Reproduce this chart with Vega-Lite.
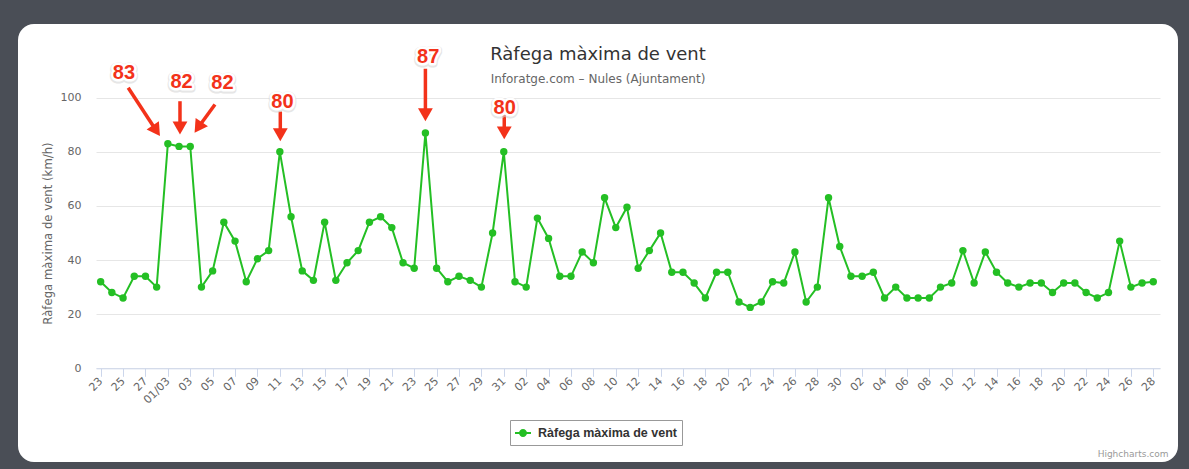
{
  "$schema": "https://vega.github.io/schema/vega-lite/v6.json",
  "width": 1160,
  "height": 438,
  "autosize": {"type": "none"},
  "padding": {"left": 18, "top": 24, "right": 11, "bottom": 7},
  "background": "#4a4e56",
  "config": {
    "font": "DejaVu Sans",
    "view": {"fill": "#ffffff", "stroke": null, "cornerRadius": 16},
    "axisX": {"labelOverlap": false, "labelFlush": false},
    "axis": {"labelOverlap": false}
  },
  "title": {
    "text": "Ràfega màxima de vent",
    "subtitle": "Inforatge.com – Nules (Ajuntament)",
    "anchor": "middle",
    "frame": "group",
    "offset": -61,
    "font": "DejaVu Sans",
    "fontSize": 18,
    "fontWeight": "normal",
    "color": "#333333",
    "subtitleFont": "DejaVu Sans",
    "subtitleFontSize": 12,
    "subtitleColor": "#666666",
    "subtitlePadding": 10
  },
  "datasets": {
    "wind": [
      {"d": "2015-02-23", "v": 32}, {"d": "2015-02-24", "v": 28}, {"d": "2015-02-25", "v": 26}, {"d": "2015-02-26", "v": 34}, {"d": "2015-02-27", "v": 34}, {"d": "2015-02-28", "v": 30},
      {"d": "2015-03-01", "v": 83}, {"d": "2015-03-02", "v": 82}, {"d": "2015-03-03", "v": 82}, {"d": "2015-03-04", "v": 30}, {"d": "2015-03-05", "v": 36}, {"d": "2015-03-06", "v": 54}, {"d": "2015-03-07", "v": 47}, {"d": "2015-03-08", "v": 32}, {"d": "2015-03-09", "v": 40.5}, {"d": "2015-03-10", "v": 43.5},
      {"d": "2015-03-11", "v": 80}, {"d": "2015-03-12", "v": 56}, {"d": "2015-03-13", "v": 36}, {"d": "2015-03-14", "v": 32.5}, {"d": "2015-03-15", "v": 54}, {"d": "2015-03-16", "v": 32.5}, {"d": "2015-03-17", "v": 39}, {"d": "2015-03-18", "v": 43.5}, {"d": "2015-03-19", "v": 54}, {"d": "2015-03-20", "v": 56},
      {"d": "2015-03-21", "v": 52}, {"d": "2015-03-22", "v": 39}, {"d": "2015-03-23", "v": 37}, {"d": "2015-03-24", "v": 87}, {"d": "2015-03-25", "v": 37}, {"d": "2015-03-26", "v": 32}, {"d": "2015-03-27", "v": 34}, {"d": "2015-03-28", "v": 32.5}, {"d": "2015-03-29", "v": 30}, {"d": "2015-03-30", "v": 50}, {"d": "2015-03-31", "v": 80},
      {"d": "2015-04-01", "v": 32}, {"d": "2015-04-02", "v": 30}, {"d": "2015-04-03", "v": 55.5}, {"d": "2015-04-04", "v": 48}, {"d": "2015-04-05", "v": 34}, {"d": "2015-04-06", "v": 34}, {"d": "2015-04-07", "v": 43}, {"d": "2015-04-08", "v": 39}, {"d": "2015-04-09", "v": 63}, {"d": "2015-04-10", "v": 52},
      {"d": "2015-04-11", "v": 59.5}, {"d": "2015-04-12", "v": 37}, {"d": "2015-04-13", "v": 43.5}, {"d": "2015-04-14", "v": 50}, {"d": "2015-04-15", "v": 35.5}, {"d": "2015-04-16", "v": 35.5}, {"d": "2015-04-17", "v": 31.5}, {"d": "2015-04-18", "v": 26}, {"d": "2015-04-19", "v": 35.5}, {"d": "2015-04-20", "v": 35.5},
      {"d": "2015-04-21", "v": 24.5}, {"d": "2015-04-22", "v": 22.5}, {"d": "2015-04-23", "v": 24.5}, {"d": "2015-04-24", "v": 32}, {"d": "2015-04-25", "v": 31.5}, {"d": "2015-04-26", "v": 43}, {"d": "2015-04-27", "v": 24.5}, {"d": "2015-04-28", "v": 30}, {"d": "2015-04-29", "v": 63}, {"d": "2015-04-30", "v": 45},
      {"d": "2015-05-01", "v": 34}, {"d": "2015-05-02", "v": 34}, {"d": "2015-05-03", "v": 35.5}, {"d": "2015-05-04", "v": 26}, {"d": "2015-05-05", "v": 30}, {"d": "2015-05-06", "v": 26}, {"d": "2015-05-07", "v": 26}, {"d": "2015-05-08", "v": 26}, {"d": "2015-05-09", "v": 30}, {"d": "2015-05-10", "v": 31.5},
      {"d": "2015-05-11", "v": 43.5}, {"d": "2015-05-12", "v": 31.5}, {"d": "2015-05-13", "v": 43}, {"d": "2015-05-14", "v": 35.5}, {"d": "2015-05-15", "v": 31.5}, {"d": "2015-05-16", "v": 30}, {"d": "2015-05-17", "v": 31.5}, {"d": "2015-05-18", "v": 31.5}, {"d": "2015-05-19", "v": 28}, {"d": "2015-05-20", "v": 31.5},
      {"d": "2015-05-21", "v": 31.5}, {"d": "2015-05-22", "v": 28}, {"d": "2015-05-23", "v": 26}, {"d": "2015-05-24", "v": 28}, {"d": "2015-05-25", "v": 47}, {"d": "2015-05-26", "v": 30}, {"d": "2015-05-27", "v": 31.5}, {"d": "2015-05-28", "v": 32}
    ],
    "notes": [
      {"label": "83", "lx": "2015-02-25T02:00:00Z", "ly": 109.2, "ax": "2015-02-25T11:00:00Z", "ay": 103.7, "bx": "2015-02-27T23:20:00Z", "by": 87.8, "tilt": -1},
      {"label": "82", "lx": "2015-03-02T05:30:00Z", "ly": 105.8, "ax": "2015-03-02T02:00:00Z", "ay": 98.7, "bx": "2015-03-02T02:00:00Z", "by": 88.8, "tilt": 0},
      {"label": "82", "lx": "2015-03-05T21:00:00Z", "ly": 105.4, "ax": "2015-03-05T05:00:00Z", "ay": 97.5, "bx": "2015-03-03T17:00:00Z", "by": 89.0, "tilt": 1},
      {"label": "80", "lx": "2015-03-11T05:30:00Z", "ly": 98.3, "ax": "2015-03-11T01:00:00Z", "ay": 94.9, "bx": "2015-03-11T01:00:00Z", "by": 86.3, "tilt": 0},
      {"label": "87", "lx": "2015-03-24T06:00:00Z", "ly": 115.1, "ax": "2015-03-24T00:00:00Z", "ay": 110.7, "bx": "2015-03-24T00:00:00Z", "by": 93.7, "tilt": 0},
      {"label": "80", "lx": "2015-03-31T02:00:00Z", "ly": 96.3, "ax": "2015-03-31T01:00:00Z", "ay": 93.8, "bx": "2015-03-31T01:00:00Z", "by": 87.0, "tilt": 0}
    ]
  },
  "layer": [
    {
      "data": {"name": "wind"},
      "mark": {"type": "line", "strokeWidth": 2, "point": {"filled": true, "size": 55}},
      "encoding": {
        "x": {
          "field": "d",
          "type": "temporal",
          "scale": {
            "type": "utc",
            "domain": [
              {"year": 2015, "month": 2, "date": 22, "hours": 14, "utc": true},
              {"year": 2015, "month": 5, "date": 28, "hours": 14, "minutes": 24, "utc": true}
            ],
            "range": [78, 1142]
          },
          "axis": {
            "values": [
              {"year": 2015, "month": 2, "date": 23, "utc": true}, {"year": 2015, "month": 2, "date": 25, "utc": true}, {"year": 2015, "month": 2, "date": 27, "utc": true},
              {"year": 2015, "month": 3, "date": 1, "utc": true}, {"year": 2015, "month": 3, "date": 3, "utc": true}, {"year": 2015, "month": 3, "date": 5, "utc": true}, {"year": 2015, "month": 3, "date": 7, "utc": true},
              {"year": 2015, "month": 3, "date": 9, "utc": true}, {"year": 2015, "month": 3, "date": 11, "utc": true}, {"year": 2015, "month": 3, "date": 13, "utc": true}, {"year": 2015, "month": 3, "date": 15, "utc": true},
              {"year": 2015, "month": 3, "date": 17, "utc": true}, {"year": 2015, "month": 3, "date": 19, "utc": true}, {"year": 2015, "month": 3, "date": 21, "utc": true}, {"year": 2015, "month": 3, "date": 23, "utc": true},
              {"year": 2015, "month": 3, "date": 25, "utc": true}, {"year": 2015, "month": 3, "date": 27, "utc": true}, {"year": 2015, "month": 3, "date": 29, "utc": true}, {"year": 2015, "month": 3, "date": 31, "utc": true},
              {"year": 2015, "month": 4, "date": 2, "utc": true}, {"year": 2015, "month": 4, "date": 4, "utc": true}, {"year": 2015, "month": 4, "date": 6, "utc": true}, {"year": 2015, "month": 4, "date": 8, "utc": true},
              {"year": 2015, "month": 4, "date": 10, "utc": true}, {"year": 2015, "month": 4, "date": 12, "utc": true}, {"year": 2015, "month": 4, "date": 14, "utc": true}, {"year": 2015, "month": 4, "date": 16, "utc": true},
              {"year": 2015, "month": 4, "date": 18, "utc": true}, {"year": 2015, "month": 4, "date": 20, "utc": true}, {"year": 2015, "month": 4, "date": 22, "utc": true}, {"year": 2015, "month": 4, "date": 24, "utc": true},
              {"year": 2015, "month": 4, "date": 26, "utc": true}, {"year": 2015, "month": 4, "date": 28, "utc": true}, {"year": 2015, "month": 4, "date": 30, "utc": true},
              {"year": 2015, "month": 5, "date": 2, "utc": true}, {"year": 2015, "month": 5, "date": 4, "utc": true}, {"year": 2015, "month": 5, "date": 6, "utc": true}, {"year": 2015, "month": 5, "date": 8, "utc": true},
              {"year": 2015, "month": 5, "date": 10, "utc": true}, {"year": 2015, "month": 5, "date": 12, "utc": true}, {"year": 2015, "month": 5, "date": 14, "utc": true}, {"year": 2015, "month": 5, "date": 16, "utc": true},
              {"year": 2015, "month": 5, "date": 18, "utc": true}, {"year": 2015, "month": 5, "date": 20, "utc": true}, {"year": 2015, "month": 5, "date": 22, "utc": true}, {"year": 2015, "month": 5, "date": 24, "utc": true},
              {"year": 2015, "month": 5, "date": 26, "utc": true}, {"year": 2015, "month": 5, "date": 28, "utc": true}
            ],
            "tickCount": 100,
            "labelExpr": "utcdate(datum.value) == 1 ? utcFormat(datum.value, '%d/%m') : utcFormat(datum.value, '%d')",
            "labelAngle": -45,
            "labelAlign": "right",
            "labelBaseline": "middle",
            "labelFont": "DejaVu Sans",
            "labelFontSize": 11,
            "labelColor": "#666666",
            "labelPadding": 3,
            "labelOverlap": false,
            "labelFlush": false,
            "offset": -93.7,
            "domainColor": "#ccd6eb",
            "tickColor": "#ccd6eb",
            "tickSize": 8,
            "grid": false,
            "title": "Highcharts.com",
            "titleFont": "DejaVu Sans",
            "titleFontSize": 9,
            "titleFontWeight": "normal",
            "titleColor": "#999999",
            "titleAlign": "right",
            "titleBaseline": "alphabetic",
            "titleX": 1150,
            "titleY": 88
          }
        },
        "y": {
          "field": "v",
          "type": "quantitative",
          "scale": {"domain": [0, 100], "range": [344.3, 73.7], "nice": false, "zero": false},
          "axis": {
            "values": [0, 20, 40, 60, 80, 100],
            "title": "Ràfega màxima de vent (km/h)",
            "offset": -78,
            "domain": false,
            "ticks": false,
            "tickSize": 0,
            "labelPadding": 15,
            "labelFont": "DejaVu Sans",
            "labelFontSize": 11,
            "labelColor": "#666666",
            "gridColor": "#e6e6e6",
            "gridWidth": 1,
            "titleFont": "DejaVu Sans",
            "titleFontSize": 11.7,
            "titleFontWeight": "normal",
            "titleColor": "#666666",
            "titlePadding": 7
          }
        },
        "color": {
          "datum": "Ràfega màxima de vent",
          "type": "nominal",
          "scale": {"range": ["#24bf24"]},
          "legend": {
            "orient": "none",
            "legendX": 492,
            "legendY": 396,
            "title": null,
            "padding": 5,
            "strokeColor": "#999999",
            "fillColor": "#ffffff",
            "cornerRadius": 0,
            "symbolType": "M-1,-0.125H1V0.125H-1Z M-0.5,0A0.5,0.5,0,1,1,0.5,0A0.5,0.5,0,1,1,-0.5,0Z",
            "symbolSize": 256,
            "labelFont": "Liberation Sans",
            "labelFontSize": 12.5,
            "labelFontWeight": "bold",
            "labelColor": "#333333",
            "labelOffset": 7,
            "encode": {"symbols": {"update": {"fill": {"value": "#24bf24"}, "stroke": {"value": "#24bf24"}, "strokeWidth": {"value": 0}, "opacity": {"value": 1}}}}
          }
        }
      }
    },
    {
      "data": {"name": "notes"},
      "mark": {"type": "rule", "color": "#f3321a", "strokeWidth": 3.5},
      "encoding": {
        "x": {"field": "ax", "type": "temporal"},
        "y": {"field": "ay", "type": "quantitative"},
        "x2": {"field": "bx"},
        "y2": {"field": "by"}
      }
    },
    {
      "data": {"name": "notes"},
      "mark": {"type": "point", "shape": "triangle-down", "filled": true, "size": 220, "color": "#f3321a", "opacity": 1},
      "encoding": {
        "x": {"field": "bx", "type": "temporal"},
        "y": {"field": "by", "type": "quantitative"},
        "angle": {"field": "tilt", "type": "quantitative", "scale": {"domain": [-1, 1], "range": [-34, 34]}, "legend": null}
      }
    },
    {
      "data": {"name": "notes"},
      "mark": {"type": "text", "font": "Liberation Sans", "fontSize": 20, "fontWeight": "bold", "align": "center", "baseline": "middle", "stroke": "#d6d6d6", "strokeWidth": 7, "strokeJoin": "round", "fill": "#d6d6d6", "opacity": 0.6, "dy": 1},
      "encoding": {
        "x": {"field": "lx", "type": "temporal"},
        "y": {"field": "ly", "type": "quantitative"},
        "text": {"field": "label"}
      }
    },
    {
      "data": {"name": "notes"},
      "mark": {"type": "text", "font": "Liberation Sans", "fontSize": 20, "fontWeight": "bold", "align": "center", "baseline": "middle", "stroke": "#ffffff", "strokeWidth": 5, "strokeJoin": "round", "fill": "#ffffff"},
      "encoding": {
        "x": {"field": "lx", "type": "temporal"},
        "y": {"field": "ly", "type": "quantitative"},
        "text": {"field": "label"}
      }
    },
    {
      "data": {"name": "notes"},
      "mark": {"type": "text", "font": "Liberation Sans", "fontSize": 20, "fontWeight": "bold", "align": "center", "baseline": "middle", "color": "#f3321a"},
      "encoding": {
        "x": {"field": "lx", "type": "temporal"},
        "y": {"field": "ly", "type": "quantitative"},
        "text": {"field": "label"}
      }
    }
  ]
}
